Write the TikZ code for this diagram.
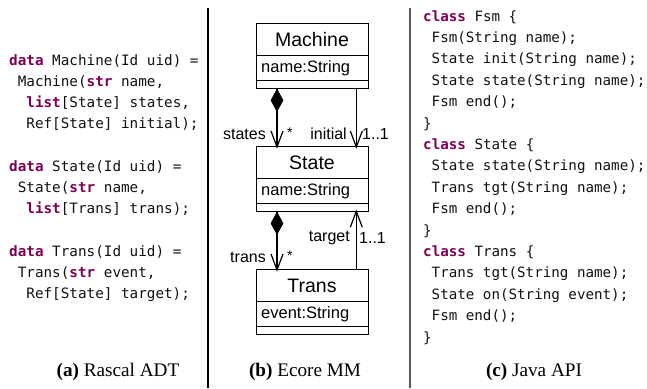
\documentclass[tikz,border=0pt]{standalone}
\usepackage{fontspec}
\newfontfamily\codefont{DejaVu Sans Mono}
\newfontfamily\umlfont{Liberation Sans}
\setmainfont{Liberation Serif}
\definecolor{kwc}{HTML}{7F0055}
\definecolor{codec}{HTML}{111111}
\newcommand\kw[1]{{\color{kwc}\bfseries #1}}
\tikzset{
  codeA/.style={anchor=base west, inner sep=0pt, text=codec, font=\codefont\fontsize{14.3}{16}\selectfont},
  codeC/.style={anchor=base west, inner sep=0pt, text=codec, font=\codefont\fontsize{14.2}{16}\selectfont},
  caption/.style={anchor=base, inner sep=0pt, font=\fontsize{19.2}{21}\selectfont},
  classbox/.style={draw, line width=1.3pt, minimum width=112pt, minimum height=65pt, inner sep=0pt, anchor=north west},
  cname/.style={inner sep=0pt, font=\umlfont\fontsize{19.5}{22}\selectfont},
  cattr/.style={inner sep=0pt, anchor=west, font=\umlfont\fontsize{16.5}{18}\selectfont},
  rlabel/.style={inner sep=0pt, font=\umlfont\fontsize{16}{18}\selectfont},
  starlabel/.style={inner sep=0pt, font=\umlfont\fontsize{14}{16}\selectfont},
  sepline/.style={line width=1pt},
  assoc/.style={line width=1.2pt},
  vtip/.style={line width=1.2pt, line join=miter},
  diam/.style={fill=black, draw=black, line width=0.6pt},
}
\begin{document}
\begin{tikzpicture}[x=1pt,y=-1pt]
\useasboundingbox (0,0) rectangle (647,388);
% separators
\coordinate (s1t) at (208,8); \coordinate (s1b) at (208,388);
\coordinate (s2t) at (410,8); \coordinate (s2b) at (410,388);
\draw[line width=1.3pt] (s1t) -- (s1b);
\draw[line width=1.3pt, black!65] (s2t) -- (s2b);

% (a) Rascal ADT
\node[codeA] (a1) at (9,65) {\kw{data} Machine(Id uid) =};
\node[codeA] (a2) at (17.6,86) {Machine(\kw{str} name,};
\node[codeA] (a3) at (26.2,107) {\kw{list}[State] states,};
\node[codeA] (a4) at (26.2,128) {Ref[State] initial);};
\node[codeA] (a5) at (9,171) {\kw{data} State(Id uid) =};
\node[codeA] (a6) at (17.6,192) {State(\kw{str} name,};
\node[codeA] (a7) at (26.2,213) {\kw{list}[Trans] trans);};
\node[codeA] (a8) at (9,256) {\kw{data} Trans(Id uid) =};
\node[codeA] (a9) at (17.6,277) {Trans(\kw{str} event,};
\node[codeA] (a10) at (26.2,298) {Ref[State] target);};
\node[caption] (capa) at (118,376) {\textbf{(a)} Rascal ADT};

% (b) Ecore MM
\node[classbox] (machine) at (256,23) {};
\node[classbox] (state) at (256,146) {};
\node[classbox] (trans) at (256,269) {};
\draw[sepline] (256,55) -- (368,55) (256,80) -- (368,80);
\draw[sepline] (256,178) -- (368,178) (256,203) -- (368,203);
\draw[sepline] (256,301) -- (368,301) (256,326) -- (368,326);
\node[cname] (mname) at (312,40) {Machine};
\node[cattr] (mattr) at (261,68) {name:String};
\node[cname] (sname) at (312,163) {State};
\node[cattr] (sattr) at (261,191) {name:String};
\node[cname] (tname) at (312,286) {Trans};
\node[cattr] (tattr) at (261,314) {event:String};

% connector end points on the boxes
\coordinate (mA) at ([xshift=21pt]machine.south west);
\coordinate (sA) at ([xshift=21pt]state.north west);
\coordinate (mB) at ([xshift=-13pt]machine.south east);
\coordinate (sB) at ([xshift=-13pt]state.north east);
\coordinate (sC) at ([xshift=21pt]state.south west);
\coordinate (tC) at ([xshift=21pt]trans.north west);
\coordinate (sD) at ([xshift=-13pt]state.south east);
\coordinate (tD) at ([xshift=-13pt]trans.north east);

% states (composition)
\draw[assoc] (mA) -- (sA);
\draw[diam] (mA) -- ++(-6,11) -- ++(6,11) -- ++(6,-11) -- cycle;
\draw[vtip] ([shift={(-6,-15)}]sA) -- ([yshift=-1pt]sA) -- ([shift={(6,-15)}]sA);
% initial
\draw[assoc] (mB) -- (sB);
\draw[vtip] ([shift={(-6,-15)}]sB) -- ([yshift=-1pt]sB) -- ([shift={(6,-15)}]sB);
% trans (composition)
\draw[assoc] (sC) -- (tC);
\draw[diam] (sC) -- ++(-6,11) -- ++(6,11) -- ++(6,-11) -- cycle;
\draw[vtip] ([shift={(-6,-15)}]tC) -- ([yshift=-1pt]tC) -- ([shift={(6,-15)}]tC);
% target
\draw[assoc] (tD) -- (sD);
\draw[vtip] ([shift={(-6,15)}]sD) -- ([yshift=1pt]sD) -- ([shift={(6,15)}]sD);

\node[rlabel, anchor=east] (lstates) at (266,134) {states};
\node[starlabel, anchor=west] (mstates) at (287,133) {*};
\node[rlabel, anchor=east] (linit) at (347,134) {initial};
\node[rlabel, anchor=west] (minit) at (362,134) {1..1};
\node[rlabel, anchor=east] (ltrans) at (266,257) {trans};
\node[starlabel, anchor=west] (mtrans) at (287,256) {*};
\node[rlabel, anchor=east] (ltarget) at (350,238) {target};
\node[rlabel, anchor=west] (mtarget) at (359,238) {1..1};
\node[caption] (capb) at (305,376) {\textbf{(b)} Ecore MM};

% (c) Java API
\node[codeC] (c1) at (423,21) {\kw{class} Fsm \{};
\node[codeC] (c2) at (431.5,42.4) {Fsm(String name);};
\node[codeC] (c3) at (431.5,63.8) {State init(String name);};
\node[codeC] (c4) at (431.5,85.2) {State state(String name);};
\node[codeC] (c5) at (431.5,106.6) {Fsm end();};
\node[codeC] (c6) at (423,128) {\}};
\node[codeC] (c7) at (423,149.4) {\kw{class} State \{};
\node[codeC] (c8) at (431.5,170.8) {State state(String name);};
\node[codeC] (c9) at (431.5,192.2) {Trans tgt(String name);};
\node[codeC] (c10) at (431.5,213.6) {Fsm end();};
\node[codeC] (c11) at (423,235) {\}};
\node[codeC] (c12) at (423,256.4) {\kw{class} Trans \{};
\node[codeC] (c13) at (431.5,277.8) {Trans tgt(String name);};
\node[codeC] (c14) at (431.5,299.2) {State on(String event);};
\node[codeC] (c15) at (431.5,320.6) {Fsm end();};
\node[codeC] (c16) at (423,342) {\}};
\node[caption] (capc) at (534,376) {\textbf{(c)} Java API};
\end{tikzpicture}
\end{document}
